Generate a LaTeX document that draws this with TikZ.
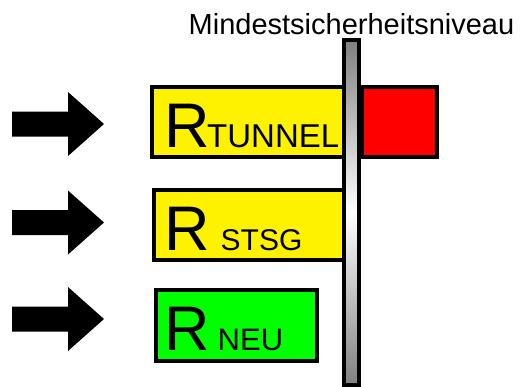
\documentclass[tikz,border=0pt]{standalone}
\usepackage{fontspec}
\setmainfont{Liberation Sans}
\begin{document}
\begin{tikzpicture}[x=1pt,y=-1pt,
  box/.style={draw=black,line width=4pt,inner sep=0pt,anchor=north west},
  bigarrow/.style={fill=black,draw=none},
  bigR/.style={font=\fontsize{63}{63}\selectfont,inner sep=0pt,anchor=base west},
  subtext/.style={inner sep=0pt,anchor=base west},
  title/.style={font=\fontsize{29}{29}\selectfont,inner sep=0pt,anchor=base}]
\useasboundingbox (0,0) rectangle (520,386);
% arrows
\foreach \c in {124,222.5,319}{
  \fill[bigarrow] (12,\c-12.5) -- (68,\c-12.5) -- (68,\c-32) -- (104,\c) -- (68,\c+32) -- (68,\c+12.5) -- (12,\c+12.5) -- cycle;
}
% boxes
\node[box,fill=yellow,minimum width=193pt,minimum height=70pt] (tunnel) at (150.3,84.7) {};
\node[box,fill=red,minimum width=75pt,minimum height=70pt] (red) at (359.5,84.7) {};
\node[box,fill=yellow,minimum width=191.5pt,minimum height=70pt] (stsg) at (152,188) {};
\node[box,fill=green,minimum width=161.6pt,minimum height=70.7pt] (neu) at (153.7,288) {};
% pole
\shade[top color=black!50,bottom color=black!50,middle color=white,draw=black,line width=4pt] (343.7,39.7) rectangle (359,385);
\node[inner sep=0pt] (pole) at (351.3,212) {};
% texts
\node[title] (titel) at (351.5,34) {Mindestsicherheitsniveau};
\node[bigR] (r1) at (164,147) {R};
\node[subtext,font=\fontsize{33}{33}\selectfont] (s1) at (207,147) {TUNNEL};
\node[bigR] (r2) at (164,250) {R};
\node[subtext,font=\fontsize{30}{30}\selectfont] (s2) at (220.5,250) {STSG};
\node[bigR] (r3) at (164,350) {R};
\node[subtext,font=\fontsize{31}{31}\selectfont] (s3) at (217.5,350) {NEU};
\end{tikzpicture}
\end{document}
